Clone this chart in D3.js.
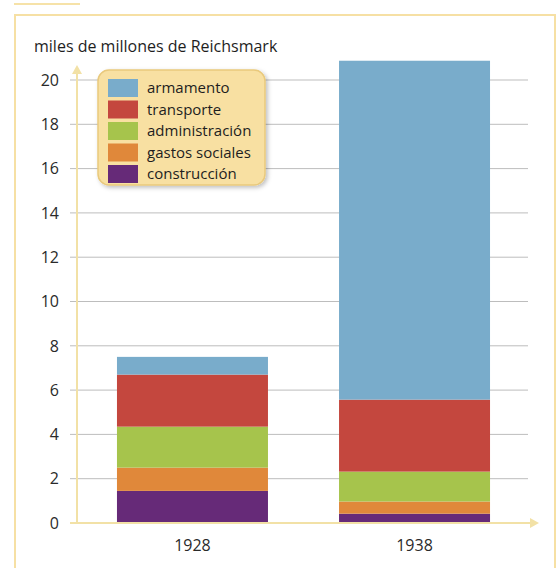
<!DOCTYPE html>
<html><head><meta charset="utf-8">
<script src="https://cdn.jsdelivr.net/npm/d3@7"></script>
<style>body{margin:0;background:#fff}svg{display:block}</style>
</head><body>
<script>
const years = ["1928", "1938"];
const categories = ["construcción", "gastos sociales", "administración", "transporte", "armamento"];
const construccion = [1.45, 0.42];
const gastosSociales = [1.05, 0.55];
const administracion = [1.85, 1.35];
const transporte = [2.35, 3.25];
const armamento = [0.8, 15.3];
const yTicks = [0, 2, 4, 6, 8, 10, 12, 14, 16, 18, 20];
const colors = ["#662a78", "#e0883a", "#a6c44c", "#c4473e", "#79accb"];
const legendOrder = ["armamento", "transporte", "administración", "gastos sociales", "construcción"];

const W = 557, H = 568;
const svg = d3.select("body").append("svg").attr("width", W).attr("height", H);
const font = "'Open Sans', 'Noto Sans', sans-serif";

// frame
svg.append("line").attr("x1", 14).attr("x2", 80).attr("y1", 4).attr("y2", 4)
  .attr("stroke", "#f6e2a8").attr("stroke-width", 2);
svg.append("rect").attr("x", 15).attr("y", 15).attr("width", 540).attr("height", 560)
  .attr("fill", "none").attr("stroke", "#f6e0a4").attr("stroke-width", 2);

const y = d3.scaleLinear().domain([0, 20]).range([523, 80]);
const x = d3.scaleBand().domain(years).range([77, 530]).paddingInner(0.32).paddingOuter(0.18);

const rows = years.map((yr, i) => ({
  year: yr,
  "construcción": construccion[i],
  "gastos sociales": gastosSociales[i],
  "administración": administracion[i],
  "transporte": transporte[i],
  "armamento": armamento[i]
}));
const stack = d3.stack().keys(categories)(rows);
const color = d3.scaleOrdinal().domain(categories).range(colors);

// grid
svg.append("g").selectAll("line").data(yTicks.filter(d => d > 0)).join("line")
  .attr("x1", 70).attr("x2", 528).attr("y1", d => y(d)).attr("y2", d => y(d))
  .attr("stroke", "#bdbdbd").attr("stroke-width", 1);
svg.append("line").attr("x1", 70).attr("x2", 77).attr("y1", y(0)).attr("y2", y(0))
  .attr("stroke", "#bdbdbd");

// tick labels
svg.append("g").selectAll("text").data(yTicks).join("text")
  .attr("x", 59).attr("y", d => y(d)).attr("dy", "0.36em").attr("text-anchor", "end")
  .attr("font-family", font).attr("font-size", 16).attr("fill", "#2a2a2a").text(d => d);

// bars
svg.append("g").selectAll("g").data(stack).join("g").attr("fill", d => color(d.key))
  .selectAll("rect").data(d => d).join("rect")
  .attr("x", d => x(d.data.year)).attr("width", x.bandwidth())
  .attr("y", d => y(d[1])).attr("height", d => y(d[0]) - y(d[1]));

// axes (cream)
const axc = "#f2e1a6";
svg.append("line").attr("x1", 77).attr("x2", 77).attr("y1", 524).attr("y2", 70)
  .attr("stroke", axc).attr("stroke-width", 2);
svg.append("path").attr("d", "M72,74 L77,65 L82,74 Z").attr("fill", axc);
svg.append("line").attr("x1", 70).attr("x2", 532).attr("y1", 523).attr("y2", 523)
  .attr("stroke", axc).attr("stroke-width", 2);
svg.append("path").attr("d", "M530,518 L539,523 L530,528 Z").attr("fill", axc);

// x labels
svg.append("g").selectAll("text").data(years).join("text")
  .attr("x", d => x(d) + x.bandwidth() / 2).attr("y", 551).attr("text-anchor", "middle")
  .attr("font-family", font).attr("font-size", 16).attr("fill", "#2a2a2a").text(d => d);

// title
svg.append("text").attr("x", 34).attr("y", 52).attr("font-family", font)
  .attr("font-size", 16).attr("fill", "#1e1e1e").text("miles de millones de Reichsmark");

// legend
const defs = svg.append("defs");
const f = defs.append("filter").attr("id", "sh").attr("x", "-10%").attr("y", "-10%").attr("width", "130%").attr("height", "130%");
f.append("feDropShadow").attr("dx", 2).attr("dy", 2).attr("stdDeviation", 2).attr("flood-color", "#000").attr("flood-opacity", 0.25);
const lg = svg.append("g");
lg.append("rect").attr("x", 98).attr("y", 70).attr("width", 167).attr("height", 115).attr("rx", 11)
  .attr("fill", "#f8e0a2").attr("stroke", "#e9c97c").attr("stroke-width", 1.5).attr("filter", "url(#sh)");
legendOrder.forEach((k, i) => {
  const yy = 79 + i * 21.5;
  lg.append("rect").attr("x", 108).attr("y", yy).attr("width", 30).attr("height", 18).attr("fill", color(k));
  lg.append("text").attr("x", 147).attr("y", yy + 9).attr("dy", "0.35em")
    .attr("font-family", font).attr("font-size", 15).attr("fill", "#1e1e1e").text(k);
});
</script>
</body></html>
